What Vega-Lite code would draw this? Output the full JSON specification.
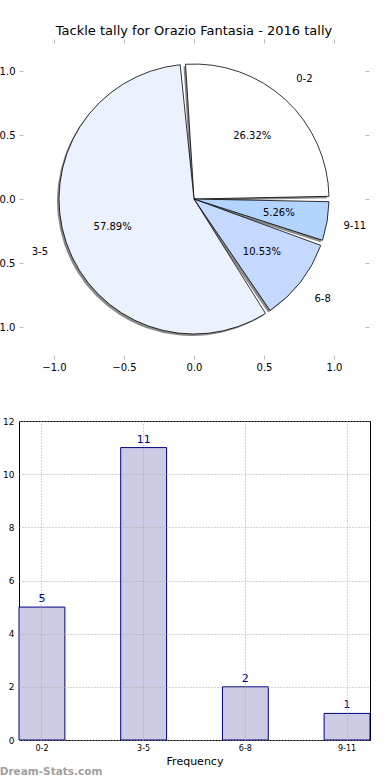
{
  "$schema": "https://vega.github.io/schema/vega-lite/v6.json",
  "padding": {"left": -10, "top": 24, "right": 0, "bottom": 0},
  "config": {"font": "DejaVu Sans", "view": {"stroke": null}},
  "datasets": {
    "tally": [
      {"cat": "0-2", "count": 5, "pct": "26.32%"},
      {"cat": "3-5", "count": 11, "pct": "57.89%"},
      {"cat": "6-8", "count": 2, "pct": "10.53%"},
      {"cat": "9-11", "count": 1, "pct": "5.26%"}
    ]
  },
  "title": {"text": "Dream-Stats.com", "orient": "bottom", "anchor": "start", "fontSize": 10.5, "fontWeight": "bold", "color": "#a0a0a0", "offset": 0, "frame": "bounds", "dx": 9},
  "spacing": 44,
  "vconcat": [
    {
      "width": 350,
      "height": 320,
      "data": {"name": "tally"},
      "title": {"text": "Tackle tally for Orazio Fantasia - 2016 tally", "fontSize": 13, "fontWeight": "normal", "offset": 1, "color": "#000"},
      "layer": [
        {
          "mark": {"type": "point", "opacity": 0},
          "encoding": {
            "x": {"datum": 0, "type": "quantitative", "scale": {"domain": [-1.25, 1.25], "nice": false, "zero": false},
              "axis": {"values": [-1, -0.5, 0, 0.5, 1], "format": ".1f", "grid": false, "domain": false, "tickColor": "#bbbbbb", "tickSize": 4, "offset": -4, "labelFontSize": 10, "labelPadding": 3, "title": null, "labelColor": "#000"}},
            "y": {"datum": 0, "type": "quantitative", "scale": {"domain": [-1.25, 1.25], "nice": false, "zero": false},
              "axis": {"values": [-1, -0.5, 0, 0.5, 1], "format": ".1f", "grid": false, "domain": false, "tickColor": "#bbbbbb", "tickSize": 4, "offset": -4, "labelFontSize": 10, "labelPadding": 4, "title": null, "labelColor": "#000"}}
          }
        },
        {
          "mark": {"type": "point", "opacity": 0},
          "encoding": {
            "x": {"datum": 0, "type": "quantitative", "axis": {"values": [-1, -0.5, 0, 0.5, 1], "labels": false, "grid": false, "domain": false, "tickColor": "#bbbbbb", "tickSize": 4, "offset": -4, "title": null}},
            "y": {"datum": 0, "type": "quantitative", "axis": {"values": [-1, -0.5, 0, 0.5, 1], "labels": false, "grid": false, "domain": false, "tickColor": "#bbbbbb", "tickSize": 4, "offset": -4, "title": null}}
          }
        },
        {
          "mark": {"type": "arc", "outerRadius": 135, "padAngle": 0.04, "fill": "#8a8a8a", "xOffset": -2, "yOffset": 2},
          "encoding": {
            "theta": {"field": "count", "type": "quantitative", "stack": true, "scale": {"range": [1.5707963, 7.8539816]}},
            "order": {"field": "cat", "sort": "descending"}
          }
        },
        {
          "mark": {"type": "arc", "outerRadius": 135, "padAngle": 0.04, "stroke": "#000", "strokeWidth": 0.8},
          "encoding": {
            "theta": {"field": "count", "type": "quantitative", "stack": true},
            "order": {"field": "cat", "sort": "descending"},
            "color": {"field": "cat", "type": "nominal", "legend": null, "scale": {"domain": ["0-2", "3-5", "6-8", "9-11"], "range": ["#ffffff", "#ebf2fe", "#c5d8fe", "#b3d4fe"]}}
          }
        },
        {
          "mark": {"type": "text", "radius": 86, "fontSize": 10, "color": "#000"},
          "encoding": {
            "theta": {"field": "count", "type": "quantitative", "stack": true},
            "order": {"field": "cat", "sort": "descending"},
            "text": {"field": "pct"}
          }
        },
        {
          "mark": {"type": "text", "radius": 163, "fontSize": 10, "color": "#000"},
          "encoding": {
            "theta": {"field": "count", "type": "quantitative", "stack": true},
            "order": {"field": "cat", "sort": "descending"},
            "text": {"field": "cat"}
          }
        }
      ],
      "resolve": {"axis": {"x": "independent", "y": "independent"}}
    },
    {
      "width": 351,
      "height": 319,
      "data": {"name": "tally"},
      "view": {"stroke": "#000", "strokeWidth": 1},
      "encoding": {
        "x": {"field": "cat", "type": "nominal", "scale": {"paddingInner": 0.549, "paddingOuter": 0},
          "axis": {"labelAngle": 0, "labelFontSize": 8, "labelColor": "#000", "domain": false, "ticks": false, "labelPadding": 4, "grid": true, "bandPosition": 0.5, "gridColor": "#a8a8a8", "gridDash": [1, 2], "gridWidth": 1, "zindex": 1, "title": "Frequency", "titleFontSize": 11, "titleFontWeight": "normal", "titlePadding": 3, "titleColor": "#000"}}
      },
      "layer": [
        {
          "mark": {"type": "bar", "fill": "#ccccE5", "stroke": "#000080", "strokeWidth": 1},
          "encoding": {
            "y": {"field": "count", "type": "quantitative", "scale": {"domain": [0, 12], "nice": false},
              "axis": {"values": [0, 2, 4, 6, 8, 10, 12], "labelFontSize": 9, "labelColor": "#000", "domain": false, "ticks": false, "labelPadding": 5, "grid": true, "gridColor": "#a8a8a8", "gridDash": [1, 2], "gridWidth": 1, "zindex": 1, "title": null}}
          }
        },
        {
          "mark": {"type": "text", "baseline": "bottom", "dy": -3, "color": "#000080", "fontSize": 11},
          "encoding": {
            "y": {"field": "count", "type": "quantitative"},
            "text": {"field": "count"}
          }
        }
      ]
    }
  ]
}
